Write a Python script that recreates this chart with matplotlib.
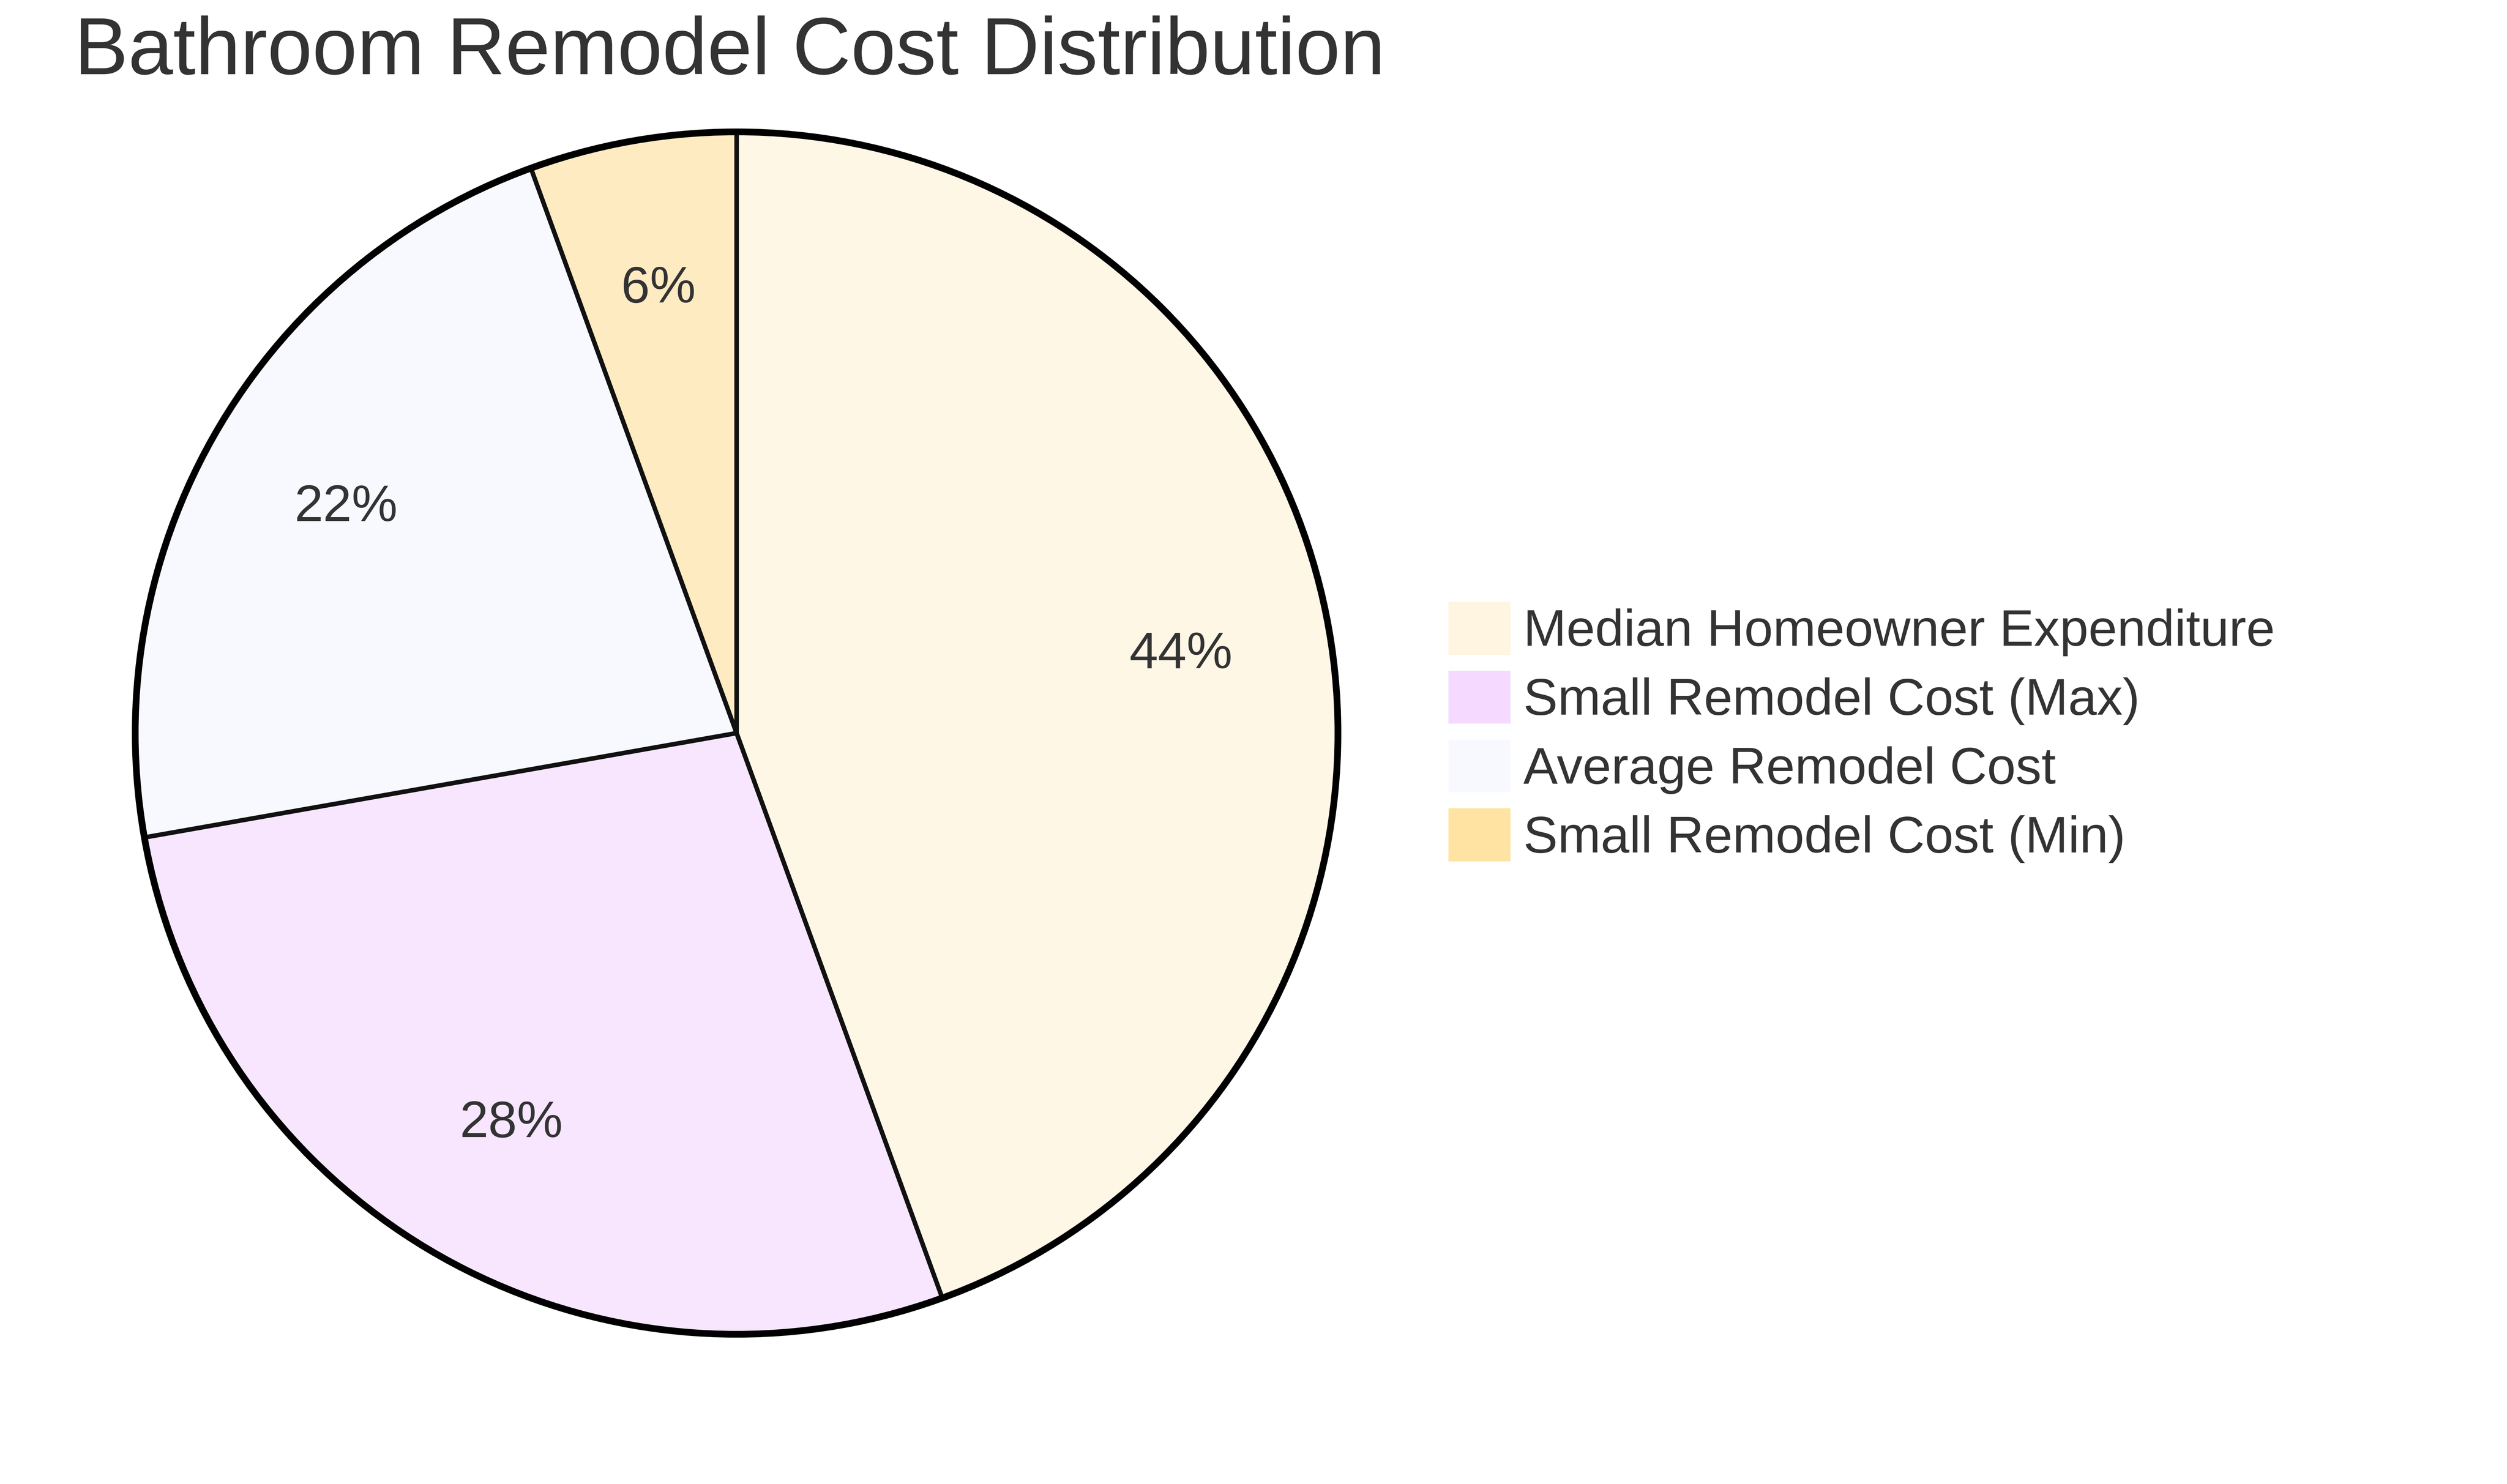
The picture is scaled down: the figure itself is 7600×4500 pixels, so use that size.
import matplotlib
matplotlib.use("Agg")
import matplotlib.pyplot as plt
from matplotlib.patches import Patch, Circle

categories = ["Median Homeowner Expenditure", "Small Remodel Cost (Max)", "Average Remodel Cost", "Small Remodel Cost (Min)"]
values = [20000, 12500, 10000, 2500]
colors = ["#FFF7E6", "#F7E6FD", "#F8F9FF", "#FFEBC2"]
legend_colors = ["#FFF5E0", "#F5D9FF", "#F8F9FF", "#FFE3A3"]
title = "Bathroom Remodel Cost Distribution"

plt.rcParams["font.family"] = "Liberation Sans"
W, H = 1552, 919
fig = plt.figure(figsize=(W/100, H/100), dpi=7600/15.52)
cx, cy, r = 456, 454, 376
ax = fig.add_axes([(cx-r)/W, (H-cy-r)/H, 2*r/W, 2*r/H])
wedges, texts, autotexts = ax.pie(values, colors=colors, startangle=90, counterclock=False,
       autopct=lambda p: f"{p:.0f}%", pctdistance=0.75,
       wedgeprops=dict(edgecolor="#111111", linewidth=2.0),
       textprops=dict(fontsize=23, color="#333333"))
ax.add_patch(Circle((0, 0), 1.0, fill=False, edgecolor="#000000", linewidth=3.0))
ax.set_xlim(-1.01, 1.01); ax.set_ylim(-1.01, 1.01)
ax.set_aspect("equal")
fig.text(46/W, 1-33/H, title, fontsize=36, color="#333333", va="center", ha="left")
handles = [Patch(facecolor=c, edgecolor="none") for c in legend_colors]
fig.legend(handles, categories, loc="upper left", bbox_to_anchor=(884/W, 1-360/H),
           frameon=False, fontsize=23, labelcolor="#333333", handlelength=1.2, handleheight=1.2,
           handletextpad=0.25, labelspacing=0.28, borderaxespad=0)
fig.savefig("out.png", facecolor="white")
